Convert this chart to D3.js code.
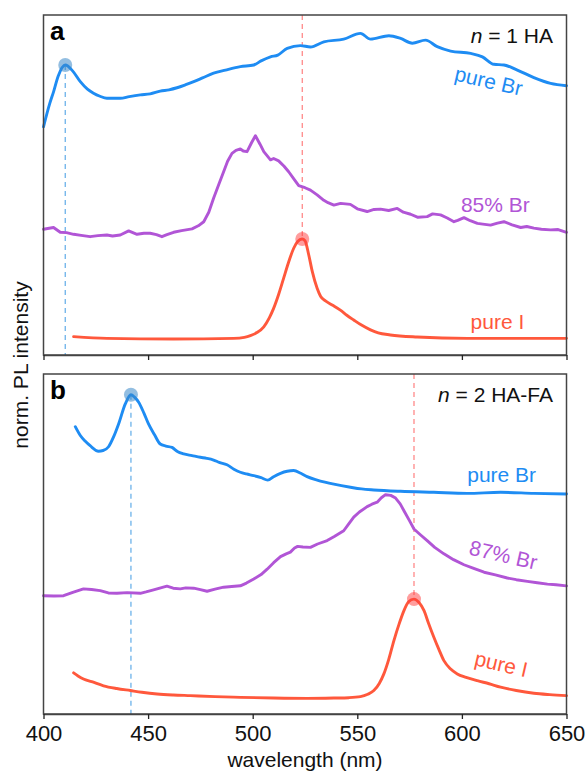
<!DOCTYPE html>
<html lang="en">
<head>
<meta charset="UTF-8">
<title>norm. PL intensity</title>
<script src="https://cdn.jsdelivr.net/npm/d3@7"></script>
<style>
  body { margin: 0; background: #fff; }
  svg text { font-family: "Liberation Sans", Arial, sans-serif; }
  .frame { fill: none; stroke: #444; stroke-width: 1.5; }
  .xAxis path { stroke: #444; stroke-width: 1.5; }
  .xAxis line { stroke: #222; stroke-width: 1.3; }
  .xAxis text { font-size: 22px; fill: #111; }
  .spec { fill: none; stroke-width: 2.9; stroke-linejoin: round; stroke-linecap: round; }
  .lbl { font-size: 21px; }
</style>
</head>
<body>
<div id="chart"></div>
<script>
// wavelength (nm), stacked norm. PL intensity (panel units 0..1)
const aPureBr = [[400,0.671],[403,0.74],[404.8,0.774],[407,0.82],[410.4,0.853],[414,0.835],[417.6,0.804],[421,0.782],[423.9,0.770],[427,0.761],[430.3,0.755],[436.7,0.755],[441,0.760],[446.3,0.765],[451,0.768],[455.8,0.776],[460,0.780],[463.8,0.786],[468,0.795],[471.8,0.804],[476,0.815],[481.3,0.829],[487,0.838],[494.1,0.848],[500.5,0.853],[504,0.865],[508.5,0.877],[512,0.882],[516.5,0.902],[522.8,0.91],[527.6,0.906],[534,0.921],[543.5,0.929],[551.5,0.946],[556.3,0.929],[565.1,0.939],[570.7,0.931],[576.3,0.917],[582.6,0.926],[588.2,0.907],[594.6,0.894],[604.2,0.887],[609.8,0.877],[615.3,0.855],[620.1,0.853],[626.5,0.838],[634.4,0.816],[642.4,0.799],[650,0.792]];
const a85Br = [[400,0.370],[402,0.372],[404.8,0.375],[408,0.361],[411,0.360],[414.4,0.355],[418,0.352],[422.3,0.348],[426,0.351],[430.3,0.353],[433,0.350],[436.7,0.353],[440.7,0.365],[444.7,0.355],[448,0.358],[451,0.358],[454,0.354],[456.6,0.348],[459,0.354],[462.2,0.361],[466,0.366],[471,0.371],[474,0.38],[476.6,0.392],[479,0.42],[481.3,0.461],[484,0.505],[486.1,0.539],[488,0.57],[490.1,0.593],[492,0.602],[494.1,0.606],[495.5,0.600],[497.3,0.598],[499.5,0.625],[501.3,0.645],[503.5,0.62],[505.3,0.598],[508.5,0.574],[510,0.578],[512.4,0.571],[515,0.555],[517.2,0.539],[520,0.515],[522,0.498],[525,0.492],[527.6,0.485],[530.8,0.471],[534,0.455],[536,0.448],[538.8,0.441],[542,0.446],[546.7,0.443],[550,0.430],[554.7,0.422],[558,0.428],[561.1,0.429],[565,0.425],[569.1,0.431],[572,0.420],[575.5,0.414],[579,0.405],[583.4,0.407],[586,0.415],[589.8,0.412],[593,0.403],[596.2,0.392],[598,0.396],[601,0.404],[604,0.395],[607.4,0.387],[610,0.385],[613.7,0.382],[617,0.388],[620.1,0.392],[624,0.383],[628.1,0.375],[631,0.378],[634.4,0.373],[638,0.370],[642.4,0.368],[646,0.369],[650,0.361]];
const aPureI = [[414.4,0.054],[430.3,0.049],[462.2,0.047],[490.9,0.049],[496,0.052],[498.9,0.057],[502,0.066],[505.3,0.083],[508,0.11],[510,0.137],[512.5,0.18],[514.8,0.226],[517,0.27],[519.6,0.314],[521.5,0.334],[523.6,0.341],[525,0.336],[526.8,0.294],[528.5,0.245],[530.8,0.196],[532.5,0.172],[534.8,0.159],[538,0.147],[541.9,0.132],[545,0.117],[548.3,0.103],[552,0.088],[556.3,0.074],[560,0.065],[565.8,0.059],[578.6,0.053],[602.6,0.049],[650,0.049]];

const bPureBr = [[415.2,0.845],[417.6,0.819],[420,0.802],[422.3,0.789],[426.3,0.773],[428.5,0.775],[431.1,0.786],[433.5,0.815],[435.9,0.853],[439.1,0.912],[441.8,0.939],[443.5,0.932],[445.5,0.917],[448,0.885],[450.2,0.853],[453,0.822],[455.8,0.794],[458.5,0.788],[461.4,0.784],[464,0.772],[467,0.765],[471,0.760],[475,0.755],[478,0.752],[481.3,0.747],[484,0.74],[487.7,0.733],[491,0.72],[494.1,0.711],[497,0.706],[500.5,0.701],[504,0.695],[507.2,0.688],[510,0.698],[513.3,0.708],[516.5,0.714],[519.6,0.716],[523,0.708],[526,0.698],[530.8,0.688],[534.5,0.682],[538.8,0.676],[546.7,0.667],[552,0.662],[557.9,0.659],[570.7,0.655],[586.6,0.652],[602.6,0.649],[618.5,0.652],[634.4,0.649],[650,0.647]];
const b87Br = [[400,0.348],[405,0.347],[409.6,0.348],[414,0.358],[419.1,0.368],[423,0.366],[427.1,0.363],[431,0.356],[435.1,0.355],[440,0.357],[446.3,0.355],[449,0.359],[452.6,0.365],[456,0.371],[459,0.376],[462,0.370],[465.4,0.368],[468,0.371],[471.8,0.370],[475,0.366],[478.2,0.361],[482,0.367],[486.1,0.373],[490,0.375],[494.1,0.377],[497,0.385],[500.5,0.397],[504,0.41],[506.9,0.426],[510,0.445],[513.3,0.463],[516,0.471],[518,0.476],[520,0.488],[521.5,0.493],[524,0.491],[527.6,0.490],[531,0.500],[535.6,0.510],[539,0.522],[543.5,0.539],[546,0.56],[548.3,0.579],[551,0.594],[554.7,0.610],[557,0.617],[559.5,0.623],[561.5,0.636],[563.5,0.645],[566,0.643],[568.3,0.635],[570.5,0.618],[572.3,0.598],[575,0.568],[577.1,0.544],[580,0.528],[583.4,0.510],[587,0.49],[591.4,0.471],[596,0.454],[601,0.439],[605,0.430],[610.6,0.417],[616,0.409],[621.7,0.400],[626,0.395],[631.3,0.390],[636,0.386],[640.9,0.382],[645,0.380],[650,0.377]];
const bPureI = [[414.4,0.121],[416.5,0.112],[419.1,0.103],[423,0.095],[428.7,0.083],[435,0.075],[441.5,0.069],[447,0.064],[454.3,0.059],[462,0.056],[470.2,0.054],[482,0.051],[494.1,0.049],[510,0.047],[526,0.046],[538.8,0.047],[546,0.048],[551.5,0.051],[555,0.058],[557.9,0.069],[560.5,0.09],[562.7,0.118],[565,0.16],[567.5,0.216],[570,0.265],[572.3,0.304],[574.5,0.330],[577.1,0.338],[579.5,0.328],[581.9,0.304],[584,0.268],[586.6,0.226],[589,0.19],[591.4,0.157],[594.5,0.133],[597.8,0.118],[602,0.108],[607.4,0.098],[613,0.089],[618.5,0.079],[626,0.069],[634.4,0.061],[642,0.057],[650,0.054]];

const xTicks = [400, 450, 500, 550, 600, 650];
const panelTags = ["a", "b"];
const panelTitles = ["1 HA", "2 HA-FA"];
// peak markers: [panel, wavelength, intensity]
const brPeaks = [[0, 410.4, 0.853], [1, 441.8, 0.939]];
const iPeaks  = [[0, 523.7, 0.341], [1, 577.1, 0.338]];

const C_BR = "#1e8cf3", C_MIX = "#b155d6", C_I = "#ff583c";

const W = 587, H = 771;
const left = 43.5, right = 566.5;
const panelTop = [15, 374], panelH = 340;

const svg = d3.select("#chart").append("svg").attr("width", W).attr("height", H);

const x = d3.scaleLinear().domain([400, 650]).range([left, right]);
const ys = panelTop.map(t => d3.scaleLinear().domain([0, 1]).range([t + panelH, t]));

const panels = [
  [{data: aPureBr, color: C_BR, curve: d3.curveMonotoneX},
   {data: a85Br, color: C_MIX, curve: d3.curveLinear},
   {data: aPureI, color: C_I, curve: d3.curveMonotoneX}],
  [{data: bPureBr, color: C_BR, curve: d3.curveMonotoneX},
   {data: b87Br, color: C_MIX, curve: d3.curveLinear},
   {data: bPureI, color: C_I, curve: d3.curveMonotoneX}]
];

// series labels: [panel, text, color, x(nm), y(intensity), rotation]
const seriesLabels = [
  [0, "pure Br", C_BR, 612, 0.785, 13],
  [0, "85% Br", C_MIX, 616, 0.42, 0],
  [0, "pure I", C_I, 617, 0.076, 0],
  [1, "pure Br", C_BR, 619, 0.682, 0],
  [1, "87% Br", C_MIX, 619, 0.447, 13],
  [1, "pure I", C_I, 618, 0.126, 13]
];

panels.forEach((series, p) => {
  const y = ys[p];
  const g = svg.append("g");

  // dashed guides
  brPeaks.filter(d => d[0] === p).forEach(d => {
    g.append("line").attr("x1", x(d[1])).attr("x2", x(d[1]))
      .attr("y1", y(d[2])).attr("y2", y(0))
      .attr("stroke", "#6cb2ea").attr("stroke-width", 1.3).attr("stroke-dasharray", "5,4");
  });
  iPeaks.filter(d => d[0] === p).forEach(d => {
    g.append("line").attr("x1", x(d[1])).attr("x2", x(d[1]))
      .attr("y1", y(1)).attr("y2", y(d[2]))
      .attr("stroke", "#ff8a8a").attr("stroke-width", 1.3).attr("stroke-dasharray", "5,4");
  });

  series.forEach(s => {
    g.append("path").attr("class", "spec").attr("stroke", s.color)
      .attr("d", d3.line().x(d => x(d[0])).y(d => y(d[1])).curve(s.curve)(s.data));
  });

  brPeaks.filter(d => d[0] === p).forEach(d => {
    g.append("circle").attr("cx", x(d[1])).attr("cy", y(d[2])).attr("r", 7)
      .attr("fill", "#3a88c8").attr("fill-opacity", 0.55);
  });
  iPeaks.filter(d => d[0] === p).forEach(d => {
    g.append("circle").attr("cx", x(d[1])).attr("cy", y(d[2])).attr("r", 7)
      .attr("fill", "#ff3c3c").attr("fill-opacity", 0.5);
  });

  seriesLabels.filter(d => d[0] === p).forEach(d => {
    g.append("text").attr("class", "lbl").attr("fill", d[2])
      .attr("text-anchor", "middle")
      .attr("transform", "translate(" + x(d[3]) + "," + y(d[4]) + ") rotate(" + d[5] + ")")
      .text(d[1]);
  });

  // frame + axis
  g.append("rect").attr("class", "frame")
    .attr("x", left).attr("y", panelTop[p]).attr("width", right - left).attr("height", panelH);

  const ax = g.append("g").attr("class", "xAxis")
    .attr("transform", "translate(0," + (panelTop[p] + panelH) + ")")
    .call(d3.axisBottom(x).tickValues(xTicks).tickSize(5).tickSizeOuter(0).tickPadding(6));
  if (p === 0) ax.selectAll("text").remove();

  g.append("text").attr("x", 50).attr("y", panelTop[p] + 25)
    .attr("font-size", 26).attr("font-weight", "bold").text(panelTags[p]);

  const t = g.append("text").attr("x", 553).attr("y", panelTop[p] + 28)
    .attr("text-anchor", "end").attr("font-size", 21).attr("fill", "#111");
  t.append("tspan").attr("font-style", "italic").text("n");
  t.append("tspan").text(" = " + panelTitles[p]);
});

svg.append("text").attr("x", (left + right) / 2).attr("y", 767)
  .attr("text-anchor", "middle").attr("font-size", 21).attr("fill", "#111")
  .text("wavelength (nm)");

svg.append("text")
  .attr("transform", "translate(28,365) rotate(-90)")
  .attr("text-anchor", "middle").attr("font-size", 21).attr("fill", "#111")
  .text("norm. PL intensity");
</script>
</body>
</html>
